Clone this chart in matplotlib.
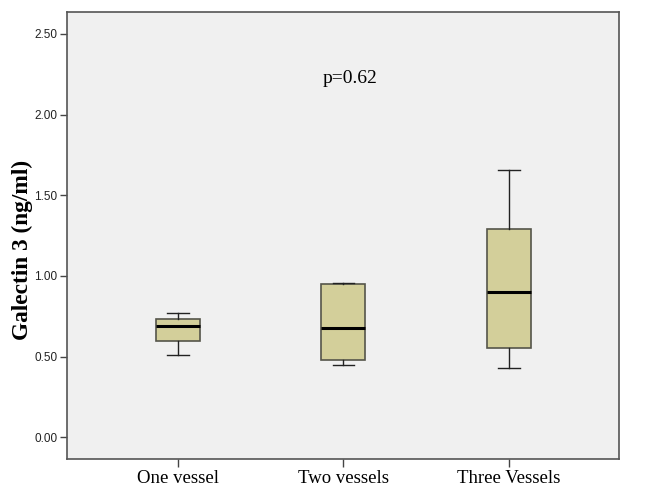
import matplotlib
matplotlib.use("Agg")
import matplotlib.pyplot as plt

categories = ["One vessel", "Two vessels", "Three Vessels"]
whislo = [0.51, 0.45, 0.43]
q1 = [0.596, 0.478, 0.554]
med = [0.689, 0.676, 0.901]
q3 = [0.732, 0.953, 1.288]
whishi = [0.77, 0.955, 1.656]
yticks = [0.0, 0.5, 1.0, 1.5, 2.0, 2.5]
ytick_labels = ["0.00", "0.50", "1.00", "1.50", "2.00", "2.50"]
annotation = "p=0.62"

stats = []
for i, c in enumerate(categories):
    stats.append(dict(label=c, whislo=whislo[i], q1=q1[i], med=med[i],
                      q3=q3[i], whishi=whishi[i], fliers=[]))

fig = plt.figure(figsize=(6.48, 4.88), dpi=100)
ax = fig.add_axes([0.1034, 0.0594, 0.8516, 0.916])
ax.set_facecolor("#f0f0f0")

edge = "#55554a"
ax.bxp(stats, positions=range(len(categories)), widths=0.266, patch_artist=True,
       showfliers=False,
       boxprops=dict(facecolor="#d3cf9a", edgecolor=edge, linewidth=1.2),
       medianprops=dict(color="black", linewidth=2.2),
       whiskerprops=dict(color="#222222", linewidth=1.0),
       capprops=dict(color="#222222", linewidth=1.0),
       capwidths=0.13)

ax.set_xlim(-0.67, 2.665)
ax.set_ylim(-0.135, 2.636)
ax.set_yticks(yticks)
ax.set_yticklabels(ytick_labels, fontfamily="Liberation Sans", fontsize=8.5, color="#222222")
ax.set_xticks(range(len(categories)))
ax.set_xticklabels(categories, fontfamily="Liberation Serif", fontsize=13.5)
ax.tick_params(axis="y", length=5, width=1, color="#444444", pad=2)
ax.tick_params(axis="x", length=6, width=1, color="#444444", pad=2)
for s in ax.spines.values():
    s.set_color("#555555")
    s.set_linewidth(1.2)

ax.set_ylabel("Galectin 3 (ng/ml)", fontfamily="Liberation Serif", fontweight="bold", fontsize=16.8)
ax.yaxis.set_label_coords(-0.0616, 0.4676)
ax.text(1.04, 2.225, annotation, ha="center", va="center", fontfamily="Liberation Serif", fontsize=14)

fig.savefig("out.png", dpi=100)
